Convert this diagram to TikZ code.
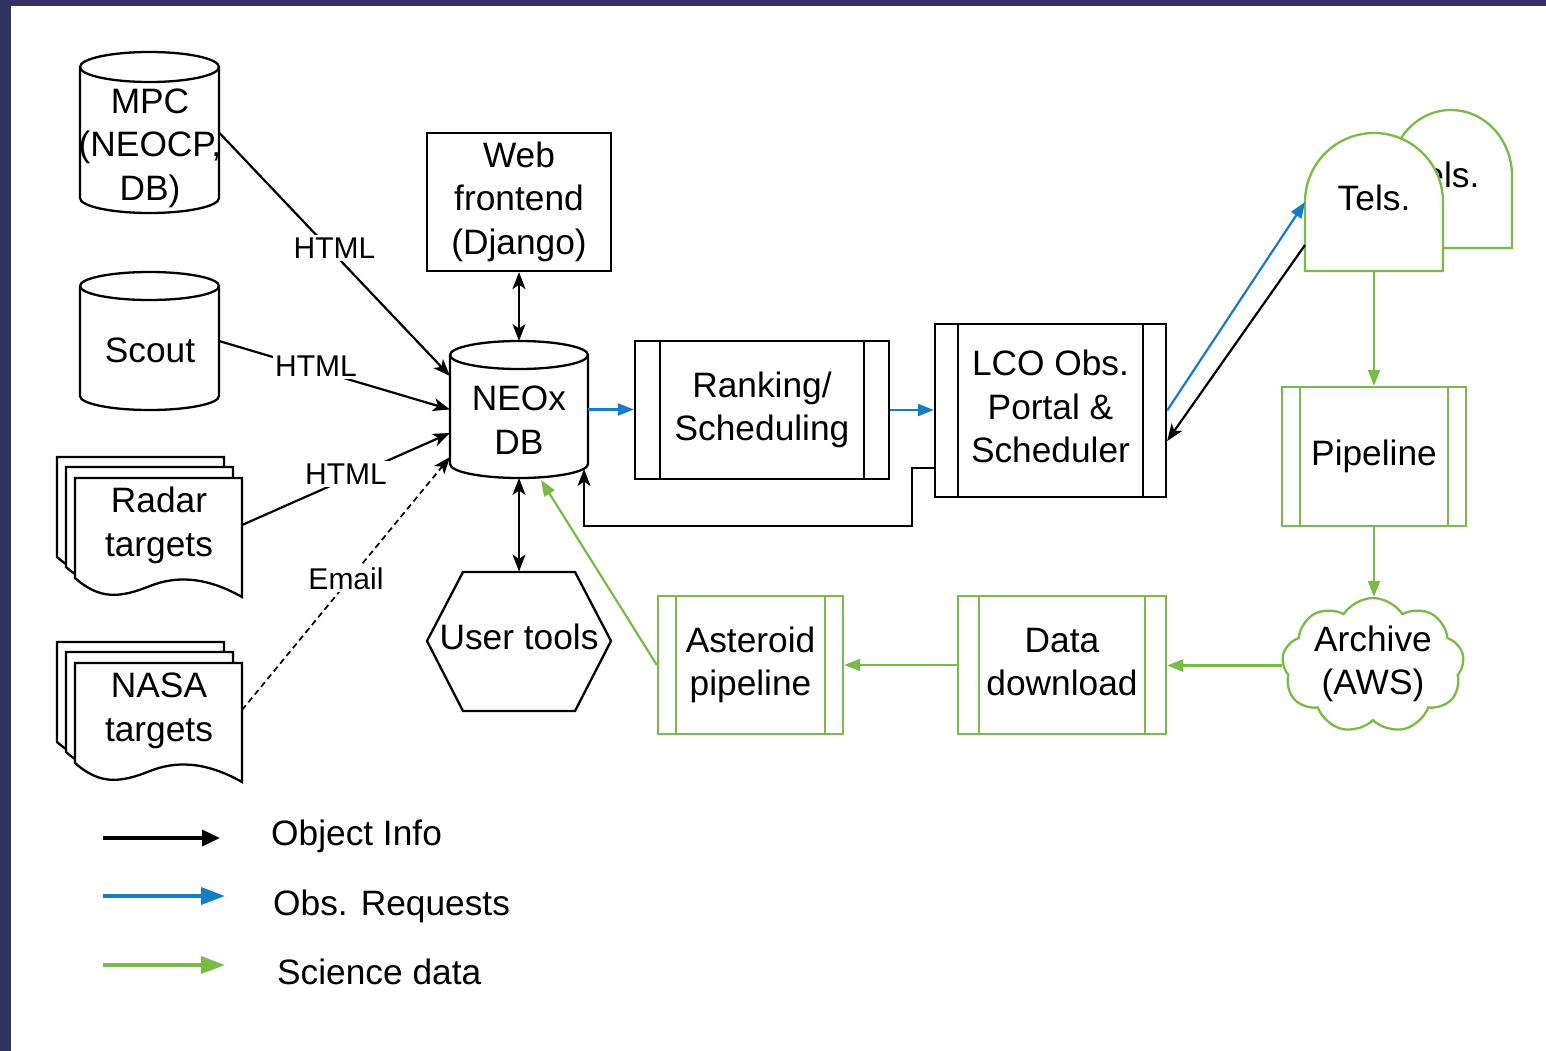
\documentclass[tikz,border=0pt]{standalone}
\usepackage{fontspec}
\setmainfont{Liberation Sans}
\usetikzlibrary{arrows.meta,calc,shapes.symbols}

\definecolor{navyband}{RGB}{50,50,96}
\definecolor{reqblue}{RGB}{22,124,196}
\definecolor{scigreen}{RGB}{122,186,70}

\newcommand{\toppad}{\rule{0pt}{31pt}}

\newcommand{\mydocpage}[2]{%
  \begin{scope}[shift={(#1,-#2)}]
    \filldraw[shp] (0,0) -- (167,0) -- (167,-119)
      .. controls (130,-98) and (100,-98) .. (75,-108)
      .. controls (45,-120) and (25,-122) .. (0,-100) -- cycle;
  \end{scope}}

\tikzset{
  shp/.style={draw=black, line width=2.3pt, fill=white},
  txt/.style={font=\fontsize{35.3}{43.5}\selectfont, align=center, inner sep=0pt,
    execute at begin node=\strut, execute at end node=\strut},
  lbl/.style={font=\fontsize{30}{36}\selectfont, fill=white, inner sep=2.5pt},
  area/.style={inner sep=0pt, outer sep=0pt},
  proc/.style 2 args={draw=#1, line width=2.3pt, fill=white, txt,
    path picture={\draw[#1, line width=2.3pt]
      ([xshift=#2]path picture bounding box.north west) -- ([xshift=#2]path picture bounding box.south west)
      ([xshift=-#2]path picture bounding box.north east) -- ([xshift=-#2]path picture bounding box.south east);}},
  blk/.style={line width=2.2pt, -{Stealth[length=17pt,width=13pt,inset=4.5pt]}},
  dbl/.style={line width=2.2pt, {Stealth[length=17pt,width=13pt,inset=4.5pt]}-{Stealth[length=17pt,width=13pt,inset=4.5pt]}},
  blu/.style={line width=2.2pt, draw=reqblue, -{Triangle[length=16pt,width=12pt]}},
  grn/.style={line width=2.2pt, draw=scigreen, -{Triangle[length=16pt,width=12pt]}},
  dsh/.style={line width=1.7pt, dash pattern=on 6pt off 4pt, -{Stealth[length=17pt,width=13pt,inset=4.5pt]}},
}

\begin{document}
\begin{tikzpicture}[x=1pt,y=1pt]
\useasboundingbox (0,0) rectangle (1546,-1051);
\fill[navyband] (0,0) rectangle (1546,-1051);
\fill[white] (11,-6) rectangle (1546,-1051);

% ---------- MPC cylinder
\filldraw[shp] (80,-67) -- (80,-198) arc[start angle=180,end angle=360,x radius=69.5,y radius=15]
  -- (219,-67) arc[start angle=0,end angle=180,x radius=69.5,y radius=15] -- cycle;
\draw[line width=2.3pt] (80,-67) arc[start angle=180,end angle=360,x radius=69.5,y radius=15];
\node[area, minimum width=139, minimum height=161] (mpc) at (149.5,-132.5) {};
\node[txt] (mpct) at (150,-148) {\toppad MPC\\(NEOCP,\\DB)};

% ---------- Scout cylinder
\filldraw[shp] (80,-286) -- (80,-396) arc[start angle=180,end angle=360,x radius=69.5,y radius=14]
  -- (219,-286) arc[start angle=0,end angle=180,x radius=69.5,y radius=14] -- cycle;
\draw[line width=2.3pt] (80,-286) arc[start angle=180,end angle=360,x radius=69.5,y radius=14];
\node[area, minimum width=139, minimum height=138] (scout) at (149.5,-341) {};
\node[txt] (scoutt) at (150,-354) {Scout};

% ---------- Radar targets
\mydocpage{57}{457}
\mydocpage{66}{467}
\mydocpage{75}{478}
\node[area, minimum width=167, minimum height=119] (radar) at (158.5,-537.5) {};
\node[txt] (radart) at (159,-525.5) {\toppad Radar\\targets};

% ---------- NASA targets
\mydocpage{57}{642}
\mydocpage{66}{652}
\mydocpage{75}{663}
\node[area, minimum width=167, minimum height=119] (nasa) at (158.5,-722.5) {};
\node[txt] (nasat) at (159,-710.5) {\toppad NASA\\targets};

% ---------- Web frontend
\node[shp, txt, minimum width=184, minimum height=138] (web) at (519,-202) {\toppad Web\\frontend\\(Django)};

% ---------- NEOx DB cylinder
\filldraw[shp] (450,-355) -- (450,-464) arc[start angle=180,end angle=360,x radius=69,y radius=14]
  -- (588,-355) arc[start angle=0,end angle=180,x radius=69,y radius=14] -- cycle;
\draw[line width=2.3pt] (450,-355) arc[start angle=180,end angle=360,x radius=69,y radius=14];
\node[area, minimum width=138, minimum height=137] (neox) at (519,-409.5) {};
\node[txt] (neoxt) at (519,-423.5) {\toppad NEOx\\DB};

% ---------- User tools hexagon
\filldraw[shp] (427,-641) -- (463,-572) -- (575,-572) -- (611,-641) -- (575,-711) -- (463,-711) -- cycle;
\node[area, txt, minimum width=184, minimum height=139] (user) at (519,-641) {User tools};

% ---------- process boxes
\node[proc={black}{25pt}, minimum width=254, minimum height=138] (rank) at (762,-410) {\toppad Ranking/\\Scheduling};
\node[proc={black}{23pt}, minimum width=231, minimum height=173] (lco) at (1050.5,-410.5) {\toppad LCO Obs.\\Portal \&\\Scheduler};
\node[proc={scigreen}{18pt}, minimum width=184, minimum height=139] (pipe) at (1374,-456.5) {Pipeline};
\node[proc={scigreen}{21pt}, minimum width=208, minimum height=138] (dl) at (1062,-665) {\toppad Data\\download};
\node[proc={scigreen}{18pt}, minimum width=185, minimum height=138] (ast) at (750.5,-665) {\toppad Asteroid\\pipeline};

% ---------- Telescopes
\filldraw[draw=scigreen, line width=2.3pt, fill=white] (1390,-248) -- (1390,-176)
  arc[start angle=180,end angle=0,x radius=61,y radius=66] -- (1512,-248) -- cycle;
\node[txt] (tels2t) at (1443,-179) {Tels.};
\filldraw[draw=scigreen, line width=2.3pt, fill=white] (1305,-271) -- (1305,-202)
  arc[start angle=180,end angle=0,x radius=69,y radius=69] -- (1443,-271) -- cycle;
\node[area, minimum width=138, minimum height=138] (tels) at (1374,-202) {};
\node[txt] (telst) at (1374,-202) {Tels.};

% ---------- Archive cloud
\node[cloud, cloud puffs=9, cloud puff arc=115, aspect=1.35, draw=scigreen, line width=2.3pt, fill=white,
  minimum width=182, minimum height=135, inner sep=0pt] (arch) at (1373,-665.5) {};
\node[txt] (archt) at (1373,-664) {\toppad Archive\\(AWS)};

% ---------- connectors
\draw[blk] (mpc.east) -- node[lbl,pos=0.5,yshift=6pt]{HTML} ([yshift=33.5pt]neox.west);
\draw[blk] (scout.east) -- node[lbl,pos=0.42,yshift=4pt]{HTML} (neox.west);
\draw[blk] ([yshift=12.5pt]radar.east) -- node[lbl,pos=0.5,yshift=5pt]{HTML} ([yshift=-23.5pt]neox.west);
\draw[dsh] ([yshift=12.5pt]nasa.east) -- node[lbl,pos=0.5,yshift=5pt]{Email} ([yshift=-47.5pt]neox.west);
\draw[dbl] (web.south) -- (neox.north);
\draw[dbl] (neox.south) -- (user.north);
\draw[blu] (neox.east) -- (neox.east -| rank.west);
\draw[blu] (rank.east) -- (rank.east -| lco.west);
\draw[blk] ([yshift=-57.5pt]lco.west) -| (912,-526) -| ([xshift=65pt,yshift=9pt]neox.south);
\draw[blu] (lco.east) -- (tels.west);
\draw[blk] ([yshift=-43pt]tels.west) -- ([yshift=-30.5pt]lco.east);
\draw[grn] (tels.south) -- (pipe.north);
\draw[grn] (pipe.south) -- (pipe.south |- arch.north);
\draw[grn] (arch.west) -- (arch.west -| dl.east);
\draw[grn] (dl.west) -- (dl.west -| ast.east);
\draw[grn] (ast.west) -- ([xshift=22pt,yshift=-2pt]neox.south);

% ---------- legend
\coordinate (k1a) at (103,-838); \coordinate (k1b) at (220,-838);
\coordinate (k2a) at (103,-896); \coordinate (k2b) at (225,-896);
\coordinate (k3a) at (103,-965); \coordinate (k3b) at (225,-965);
\draw[line width=3.5pt, -{Triangle[length=18pt,width=16pt]}] (k1a) -- (k1b);
\draw[line width=3.5pt, draw=reqblue, -{Triangle[length=24pt,width=17pt]}] (k2a) -- (k2b);
\draw[line width=3.5pt, draw=scigreen, -{Triangle[length=24pt,width=17pt]}] (k3a) -- (k3b);
\node[txt, anchor=west] (lg1) at (271,-837) {Object Info};
\node[txt, anchor=west] (lg2) at (273,-907) {Obs. Requests};
\node[txt, anchor=west] (lg3) at (277,-976) {Science data};
\end{tikzpicture}
\end{document}
